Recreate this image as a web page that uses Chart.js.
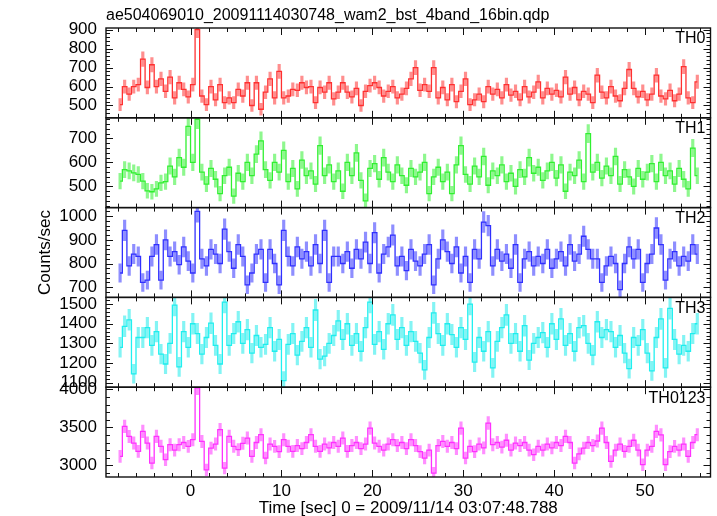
<!DOCTYPE html>
<html>
<head>
<meta charset="utf-8">
<script src="https://cdn.jsdelivr.net/npm/chart.js@4"></script>
<style>
  html, body { margin: 0; background: #fff; }
  canvas { display: block; }
</style>
</head>
<body>
<canvas id="lc" width="717" height="516"></canvas>
<script>
// light curve, 0.5 s bins
const binSize = 0.5;
const tStart = -7.75;

const th0 = [
  505, 600, 560, 600, 610, 745, 595, 715, 600, 640, 575, 650, 540, 620, 585, 545,
  610, 900, 550, 505, 600, 530, 610, 515, 540, 515, 585, 550, 620, 500, 620, 480,
  570, 640, 540, 680, 540, 550, 585, 580, 620, 595, 600, 515, 595, 570, 620, 535,
  570, 620, 570, 545, 590, 500, 575, 605, 620, 595, 550, 575, 600, 540, 560, 590,
  640, 700, 580, 610, 575, 700, 540, 595, 530, 610, 520, 575, 640, 505, 530, 560,
  520, 600, 560, 585, 540, 610, 555, 575, 530, 600, 545, 570, 625, 540, 590, 560,
  580, 545, 650, 560, 595, 530, 575, 560, 515, 660, 570, 540, 600, 550, 525, 590,
  690, 590, 545, 575, 530, 560, 660, 550, 535, 580, 525, 560, 705, 540, 515, 625
];
const th1 = [
  522, 570, 565, 557, 550, 522, 482, 478, 490, 515, 520, 585, 540, 620, 580, 750,
  600, 780, 560, 510, 575, 530, 470, 545, 580, 460, 555, 520, 600, 545, 635, 690,
  570, 525, 600, 560, 650, 520, 575, 490, 610, 545, 565, 510, 670, 545, 590, 520,
  565, 480, 600, 545, 640, 525, 440, 575, 595, 530, 620, 560, 520, 590, 545, 505,
  575, 540, 560, 600, 470, 540, 580, 520, 560, 470, 590, 670, 550, 510, 585, 540,
  625, 505, 565, 545, 590, 520, 555, 500, 570, 540, 620, 555, 580, 525, 565, 600,
  535, 590, 480, 560, 545, 610, 520, 720, 560, 600, 535, 585, 545, 625, 510, 570,
  540, 500, 575, 530, 560, 595, 520, 600, 545, 565, 510, 575, 530, 490, 660, 545
];
const th2 = [
  760, 940, 790, 840, 830, 720, 730, 830, 880, 730, 900, 830, 850, 795, 870, 810,
  760, 1020, 820, 790, 860, 840, 800, 945, 850, 780, 880, 830, 710, 760, 840, 860,
  720, 860, 800, 710, 940, 830, 790, 870, 820, 850, 790, 880, 800, 940, 720, 830,
  830, 800, 850, 780, 860, 820, 890, 800, 930, 760, 840, 870, 920, 790, 830, 770,
  860, 810, 790, 840, 880, 710, 820, 900, 850, 800, 870, 760, 830, 720, 860, 820,
  975, 960, 790, 860, 810, 840, 780, 880, 720, 820, 850, 790, 830, 800, 860, 780,
  820, 850, 790, 880, 810, 840, 915, 860, 820, 820, 720, 790, 830, 800, 690, 800,
  870, 820, 860, 720, 800, 840, 950, 880, 730, 820, 850, 790, 830, 810, 880, 840
];
const th3 = [
  1280, 1387, 1420, 1145, 1330, 1330, 1380, 1290, 1360, 1245, 1195, 1300, 1495, 1180, 1360, 1280,
  1400, 1350, 1245, 1330, 1403, 1290, 1195, 1510, 1290, 1350, 1410, 1300, 1370, 1250, 1340, 1280,
  1295, 1380, 1260, 1320, 1110, 1295, 1350, 1240, 1310, 1380, 1280, 1470, 1220, 1235, 1300, 1340,
  1415, 1320, 1400, 1290, 1350, 1260, 1380, 1510, 1295, 1360, 1270, 1400, 1445, 1320, 1380, 1290,
  1360, 1310, 1250, 1165, 1330, 1455, 1350, 1290, 1400, 1345, 1280, 1380, 1320, 1500, 1205, 1330,
  1260, 1360, 1175, 1310, 1380, 1445, 1300, 1350, 1260, 1390, 1215, 1300, 1330, 1355, 1280, 1400,
  1320, 1425, 1290, 1350, 1260, 1380, 1390, 1300, 1240, 1410, 1330, 1370, 1360, 1280, 1340, 1250,
  1172, 1330, 1290, 1370, 1250, 1160, 1330, 1425, 1175, 1478, 1320, 1245, 1290, 1260, 1350, 1400
];
const th0123 = [
  3117, 3513, 3380, 3293, 3183, 3447, 3293, 3029, 3381, 3250, 3073, 3271, 3200, 3271, 3300, 3249,
  3337, 4020, 3315, 2940, 3227, 3280, 3469, 2962, 3381, 3250, 3205, 3290, 3359, 3117, 3300, 3403,
  3095, 3280, 3249, 3180, 3337, 3250, 3183, 3260, 3220, 3300, 3403, 3250, 3183, 3280, 3230, 3300,
  3250, 3359, 3183, 3260, 3300, 3220, 3280, 3491, 3293, 3250, 3200, 3280, 3337, 3260, 3300, 3220,
  3337, 3260, 3180, 3095, 3200, 2896, 3260, 3315, 3250, 3300, 3220, 3491, 3095, 3250, 3180, 3280,
  3230, 3557, 3271, 3300, 3240, 3330, 3200, 3293, 3260, 3300, 3200, 3139, 3250, 3200, 3280, 3230,
  3300, 3260, 3381, 3300, 3029, 3150, 3227, 3300, 3260, 3320, 3491, 3300, 3051, 3200, 3280, 3183,
  3250, 3330, 3200, 3007, 3200, 3250, 3447, 3400, 3007, 3180, 3249, 3200, 3280, 3117, 3300, 3403
];

// tick labels
const xTicks = [0, 10, 20, 30, 40, 50];
const yTicks = [
  [500, 600, 700, 800, 900],
  [500, 600, 700],
  [700, 800, 900, 1000],
  [1100, 1200, 1300, 1400, 1500],
  [3000, 3500, 4000]
];

const panelNames = ['TH0', 'TH1', 'TH2', 'TH3', 'TH0123'];
const series = [th0, th1, th2, th3, th0123];
const yMin = [435, 412, 657, 1077, 2845];
const yMax = [909, 786, 1036, 1534, 4030];
const yMajor = [100, 100, 100, 100, 500];
const yMinor = [20, 20, 20, 20, 100];
const xMin = -9.3, xMax = 57.2;

const lineColors = ['#ff3030', '#30f030', '#3030ff', '#20f0f0', '#ff30ff'];
const barColors = ['rgba(255,50,50,0.55)', 'rgba(50,240,50,0.55)', 'rgba(50,50,255,0.55)',
                   'rgba(30,235,235,0.55)', 'rgba(255,50,255,0.55)'];
const family = '"Liberation Sans", Arial, sans-serif';

const times = th0.map((_, i) => tStart + binSize * i);

const datasets = [];
series.forEach((vals, k) => {
  // error bars, sqrt(N) per bin
  datasets.push({
    type: 'bar',
    yAxisID: 'y' + k,
    data: vals.map((v, i) => {
      const e = Math.sqrt(v / binSize);
      return { x: times[i], y: [v - e, v + e] };
    }),
    backgroundColor: barColors[k],
    borderWidth: 0,
    barThickness: 2.5,
    grouped: false
  });
  datasets.push({
    type: 'line',
    yAxisID: 'y' + k,
    data: vals.map((v, i) => ({ x: times[i], y: v })),
    borderColor: lineColors[k],
    borderWidth: 1.3,
    stepped: 'middle',
    pointRadius: 0,
    fill: false
  });
});

const scales = {
  x: {
    type: 'linear', position: 'bottom', min: xMin, max: xMax, offset: false,
    grid: { display: false, drawTicks: false }, border: { display: false },
    afterBuildTicks: s => { s.ticks = xTicks.map(v => ({ value: v })); },
    ticks: { autoSkip: false, maxRotation: 0, padding: 4, color: '#000',
             font: { size: 17, family: family }, callback: v => String(v) },
    afterFit: s => { s.height = 39; }
  }
};
series.forEach((_, k) => {
  scales['y' + k] = {
    type: 'linear', position: 'left', stack: 'panels', stackWeight: 1, weight: 5 - k,
    min: yMin[k], max: yMax[k], offset: false,
    grid: { display: false, drawTicks: false }, border: { display: false },
    afterBuildTicks: s => { s.ticks = yTicks[k].map(v => ({ value: v })); },
    ticks: { autoSkip: false, padding: 9, color: '#000',
             font: { size: 17, family: family }, callback: v => String(v) },
    afterFit: s => { s.width = 100; }
  };
});

// frame, inward ticks and the labels qdp puts around the panels
const qdpFrame = {
  id: 'qdpFrame',
  afterDraw(chart) {
    const ctx = chart.ctx;
    const x = chart.scales.x;
    const L = x.left, R = x.right;
    const seg = (x1, y1, x2, y2) => { ctx.moveTo(x1, y1); ctx.lineTo(x2, y2); };
    ctx.save();
    ctx.strokeStyle = '#111';
    ctx.lineWidth = 1;
    ctx.beginPath();
    series.forEach((_, k) => {
      const s = chart.scales['y' + k];
      const T = s.top, B = s.bottom;
      for (let t = -8; t <= 56; t += 2) {
        const px = Math.round(x.getPixelForValue(t)) + 0.5;
        const len = t % 10 === 0 ? 7 : 4;
        seg(px, T, px, T + len);
        seg(px, B, px, B - len);
      }
      for (let v = Math.ceil(yMin[k] / yMinor[k]) * yMinor[k]; v <= yMax[k]; v += yMinor[k]) {
        const py = Math.round(s.getPixelForValue(v)) + 0.5;
        const len = v % yMajor[k] === 0 ? 7 : 4;
        seg(L, py, L + len, py);
        seg(R, py, R - len, py);
      }
    });
    ctx.stroke();
    ctx.lineWidth = 1.4;
    series.forEach((_, k) => {
      const s = chart.scales['y' + k];
      ctx.strokeRect(L, s.top, R - L, s.bottom - s.top);
    });

    ctx.fillStyle = '#000';
    ctx.font = '16px ' + family;
    ctx.textBaseline = 'middle';
    ctx.textAlign = 'right';
    series.forEach((_, k) => {
      const s = chart.scales['y' + k];
      ctx.fillText(panelNames[k], R - 5, s.top + 11);
    });
    ctx.textAlign = 'left';
    ctx.textBaseline = 'alphabetic';
    ctx.fillText('ae504069010_20091114030748_wam2_bst_4band_16bin.qdp', L, 20);
    ctx.font = '17px ' + family;
    ctx.textAlign = 'center';
    ctx.textBaseline = 'middle';
    ctx.fillText('Time [sec] 0 = 2009/11/14 03:07:48.788', (L + R) / 2, 508);
    const top = chart.scales.y0.top, bottom = chart.scales.y4.bottom;
    ctx.translate(45, (top + bottom) / 2);
    ctx.rotate(-Math.PI / 2);
    ctx.fillText('Counts/sec', 0, 0);
    ctx.restore();
  }
};

new Chart(document.getElementById('lc'), {
  type: 'bar',
  data: { datasets: datasets },
  options: {
    responsive: false,
    animation: false,
    events: [],
    layout: { padding: { left: 6, right: 6.5, top: 28, bottom: 0 } },
    plugins: { legend: { display: false }, tooltip: { enabled: false } },
    scales: scales
  },
  plugins: [qdpFrame]
});
</script>
</body>
</html>
